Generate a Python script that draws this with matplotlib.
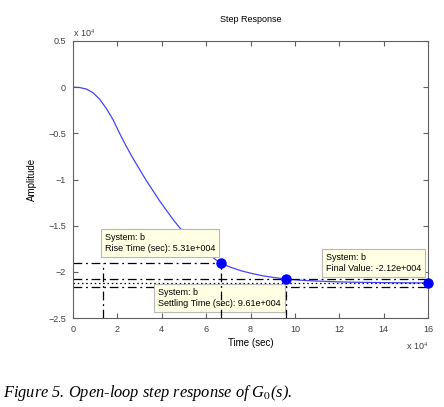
import numpy as np
import matplotlib
matplotlib.use("Agg")
import matplotlib.pyplot as plt

# step response (time in 1e4 s, amplitude in 1e4)
t = [0, 0.3, 0.6, 0.9, 1.2, 1.5, 1.8, 2.1, 2.4, 2.7, 3.0, 3.3, 3.6, 3.9,
     4.2, 4.5, 4.8, 5.2, 5.6, 6.1, 6.66, 7.1, 7.6, 8.1, 8.6, 9.1, 9.61,
     10.2, 11.0, 12.0, 13.0, 14.5, 16.0]
y = [0, -0.004, -0.02, -0.06, -0.13, -0.23, -0.35, -0.50, -0.64, -0.77,
     -0.89, -1.01, -1.12, -1.23, -1.33, -1.43, -1.52, -1.62, -1.71, -1.81,
     -1.908, -1.95, -1.99, -2.02, -2.045, -2.063, -2.078, -2.09, -2.10,
     -2.109, -2.114, -2.118, -2.12]

t10 = 1.35
t_rise = 6.66
t_settle = 9.61
t_end = 16.0
y_final = -2.12
y_90 = -1.908
y_98 = -2.078
y_102 = -2.162

xticks = [0, 2, 4, 6, 8, 10, 12, 14, 16]
yticks = [0.5, 0, -0.5, -1, -1.5, -2, -2.5]
ytick_labels = ["0.5", "0", "\u22120.5", "\u22121", "\u22121.5", "\u22122", "\u22122.5"]

rise_text = "System: b\nRise Time (sec): 5.31e+004"
settle_text = "System: b\nSettling Time (sec): 9.61e+004"
final_text = "System: b\nFinal Value: -2.12e+004"

plt.rcParams['font.family'] = ['Liberation Sans', 'DejaVu Sans']
plt.rcParams['mathtext.fontset'] = 'stix'

W, H = 444, 407
fig = plt.figure(figsize=(W / 100, H / 100), dpi=100)
ax = fig.add_axes([73 / W, 1 - 318 / H, 355 / W, 277 / H])

grey = '#606060'
txt = '#404040'
fs = 6.5

ax.plot(t, y, color='#4444ff', lw=0.9, zorder=2)

# characteristic lines (horizontal ones go under the data tip boxes)
dd = [7, 3, 1.5, 3]
hdash = dict(color='black', lw=0.9, dashes=dd, zorder=2.5)
vdash = dict(color='black', lw=0.9, dashes=dd, zorder=4)
ax.plot([0, t_rise], [y_90, y_90], **hdash)
ax.plot([0, t_end], [y_98, y_98], **hdash)
ax.plot([0, t_end], [y_102, y_102], **hdash)
ax.plot([0, t_end], [y_final, y_final], color='black', lw=0.9, dashes=[1.2, 2.2], zorder=2.5)
ax.plot([t10, t10], [-2.5, y_90], **vdash)
ax.plot([t_rise, t_rise], [-2.5, y_90], **vdash)
ax.plot([t_settle, t_settle], [-2.5, y_98], **vdash)

ax.plot([t_rise, t_settle, t_end], [y_90, y_98, y_final], 'o', color='#0000ff',
        ms=6.5, zorder=5, clip_on=False)

box = dict(boxstyle='square,pad=0.45', fc='#ffffe4', ec='#b8b8b8', lw=0.8)
ax.text(1.44, -1.578, rise_text, ha='left', va='top', fontsize=fs, color='black',
        bbox=box, zorder=3, linespacing=1.25)
ax.text(3.83, -2.175, settle_text, ha='left', va='top', fontsize=fs, color='black',
        bbox=box, zorder=3, linespacing=1.25)
ax.text(11.39, -1.795, final_text, ha='left', va='top', fontsize=fs, color='black',
        bbox=box, zorder=3, linespacing=1.25)

ax.set_xlim(0, 16)
ax.set_ylim(-2.5, 0.5)
ax.set_xticks(xticks)
ax.set_xticklabels([str(v) for v in xticks])
ax.set_yticks(yticks)
ax.set_yticklabels(ytick_labels)
ax.tick_params(direction='in', length=3.5, width=0.8, colors=grey, labelcolor=txt,
               labelsize=fs, top=True, right=True, pad=5)
for s in ax.spines.values():
    s.set_color(grey)
    s.set_linewidth(0.8)

ax.set_title("Step Response", fontsize=fs, color='black', pad=14)
ax.set_xlabel("Time (sec)", fontsize=fs + 0.5, color='black', labelpad=3)
ax.set_ylabel("Amplitude", fontsize=fs + 0.5, color='black', labelpad=8)

fig.text(73 / W, 1 - 37 / H, r"x 10$^4$", fontsize=fs, color=txt, ha='left', va='baseline')
fig.text(428 / W, 1 - 350 / H, r"x 10$^4$", fontsize=fs, color=txt, ha='right', va='baseline')

fig.text(3 / W, 1 - 397 / H, r"Figure 5. Open-loop step response of G$_{\mathit{0}}$(s).",
         fontsize=11.8, family='Liberation Serif', style='italic', ha='left', va='baseline')

fig.savefig("out.png", dpi=100)
